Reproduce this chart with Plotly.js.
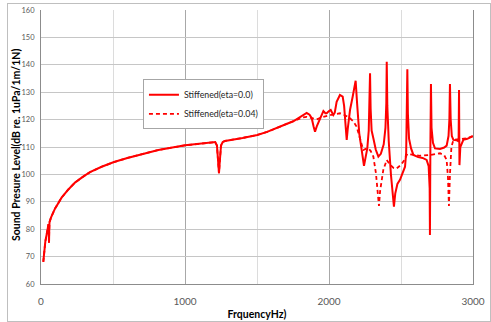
<!DOCTYPE html>
<html>
<head>
<meta charset="utf-8">
<script src="https://cdn.plot.ly/plotly-3.0.1.min.js"></script>
<style>
html,body{margin:0;padding:0;background:#fff;}
#wrap{position:relative;width:491px;height:322px;}
#chart{position:absolute;left:0;top:0;width:491px;height:322px;}
#frame{position:absolute;left:7px;top:3px;width:482px;height:317px;border:1px solid #bfbfbf;pointer-events:none;}
</style>
</head>
<body>
<div id="wrap"><div id="chart"></div><div id="frame"></div></div>
<script>
// Shared low-frequency part (both curves coincide)
const lowFreq = [16, 22, 30, 39, 47, 52, 54, 55.6, 57, 59, 70, 97, 143, 190, 236, 290, 340, 421, 507, 600, 688, 815, 1000, 1100, 1174, 1210, 1222, 1230, 1236, 1242, 1250, 1262, 1278, 1400, 1502, 1570, 1637, 1700, 1752];
const lowSpl  = [68.1, 72, 75.5, 78, 80.2, 81.8, 79, 75.1, 79, 82.6, 84.3, 87.5, 91.5, 94.5, 97.0, 99.1, 100.8, 102.8, 104.5, 106.0, 107.3, 108.9, 110.6, 111.2, 111.7, 111.8, 110.5, 105, 100.4, 105, 110.5, 111.8, 112.2, 113.3, 114.4, 115.5, 116.8, 118.3, 119.4];

// eta = 0.0 (solid), high-frequency part
const freqSolidHigh = [1790, 1820, 1845, 1865, 1880, 1893, 1903, 1915, 1937, 1961, 1975, 1984, 1998, 2012, 2030, 2040, 2053, 2076, 2095, 2105, 2115, 2123, 2130, 2146, 2165, 2178, 2185, 2195, 2210, 2227, 2243, 2255, 2266, 2276, 2281, 2285, 2289, 2296, 2308, 2325, 2343, 2360, 2380, 2392, 2398, 2401, 2405, 2415, 2430, 2443, 2451, 2460, 2475, 2493, 2515, 2528, 2536, 2541, 2544, 2548, 2556, 2570, 2586, 2620, 2650, 2678, 2692, 2699, 2701, 2704, 2708, 2712, 2722, 2736, 2771, 2800, 2817, 2830, 2836, 2840, 2845, 2853, 2864, 2885, 2900, 2903, 2906, 2912, 2933, 2960, 3000];
const splSolidHigh  = [120.6, 121.8, 122.4, 121.8, 120.5, 117.5, 115.6, 117.5, 120.5, 123.1, 122.3, 122.3, 123.0, 123.5, 121.7, 122.5, 126.5, 129, 128.4, 125, 118, 112.6, 116.5, 123.5, 128.5, 132.5, 134.2, 126, 115, 108.9, 103.1, 106.5, 109.5, 116, 124, 136.9, 124, 116, 113.2, 109, 106.5, 107.5, 111, 117, 126, 141.1, 125, 112, 100, 92, 88.2, 93, 96.5, 98, 101, 102.8, 108, 120, 138.4, 122, 113, 109.5, 107.1, 106.3, 106, 105.3, 103, 95, 77.9, 110, 133, 117, 111.5, 109.5, 109.3, 109.8, 110.5, 114, 120, 133, 120, 114, 112.6, 112.5, 112, 130.8, 103.4, 110, 112.6, 113, 114];

// eta = 0.04 (dashed), high-frequency part
const freqDashHigh = [1790, 1820, 1845, 1880, 1914, 1960, 2007, 2040, 2076, 2110, 2146, 2170, 2192, 2205, 2215, 2238, 2255, 2273, 2290, 2308, 2326, 2340, 2347, 2355, 2377, 2401, 2424, 2450, 2470, 2500, 2520, 2544, 2590, 2632, 2701, 2771, 2800, 2817, 2826, 2833, 2840, 2850, 2864, 2900, 2933, 2960, 3000];
const splDashHigh  = [120.2, 120.8, 121, 120.6, 120.1, 121, 121.7, 122, 122.3, 121.6, 120.5, 119.3, 117.4, 115, 112.6, 108.9, 109.3, 109.5, 108.5, 106.5, 100.4, 92, 88.5, 94, 101.6, 105.3, 103.5, 102.3, 102.2, 103.5, 105, 107.5, 107, 106.8, 107.1, 107.7, 107, 105.3, 99, 88.5, 100, 110, 112.6, 112.8, 112.8, 113.2, 114];

const seriesNames = ['Stiffened(eta=0.0)', 'Stiffened(eta=0.04)'];
const xTickVals = [0, 1000, 2000, 3000];
const xTickText = ['0', '1000', '2000', '3000'];
const xTitle = 'FrquencyHz)';
const yTitle = 'Sound Presure Level(dB re. 1uPa/1m/1N)';

const FONT = 'Lato, "Liberation Sans", sans-serif';

const traces = [
  {
    x: lowFreq.concat(freqSolidHigh),
    y: lowSpl.concat(splSolidHigh),
    name: seriesNames[0],
    mode: 'lines',
    line: {color: '#ff0000', width: 2}
  },
  {
    x: lowFreq.concat(freqDashHigh),
    y: lowSpl.concat(splDashHigh),
    name: seriesNames[1],
    mode: 'lines',
    line: {color: '#ff0000', width: 1.8, dash: '4px,3px'}
  }
];

const layout = {
  width: 491, height: 322,
  margin: {l: 41, r: 18, t: 10, b: 38, pad: 0},
  paper_bgcolor: '#ffffff',
  plot_bgcolor: '#ffffff',
  font: {family: FONT, color: '#404040'},
  showlegend: true,
  legend: {
    x: 0.236, y: 0.747, xanchor: 'left', yanchor: 'top',
    bgcolor: '#ffffff', bordercolor: '#a6a6a6', borderwidth: 1,
    font: {family: FONT, size: 8.8, color: '#262626'},
    tracegroupgap: 0
  },
  xaxis: {
    range: [0, 3000],
    tickvals: xTickVals, ticktext: xTickText,
    tickfont: {family: FONT, size: 10, color: '#595959'},
    ticks: '', ticklabelstandoff: 8,
    showgrid: true, gridcolor: '#a8a8a8', gridwidth: 1,
    minor: {dtick: 500, tick0: 0, showgrid: true, gridcolor: '#dcdcdc', gridwidth: 1},
    showline: true, linecolor: '#8c8c8c', linewidth: 1, mirror: false,
    zeroline: false,
    title: {text: '<b>' + xTitle + '</b>', font: {family: FONT, size: 10.5, color: '#000000'}, standoff: 4}
  },
  yaxis: {
    range: [60, 160], dtick: 10, tick0: 60,
    tickfont: {family: FONT, size: 7.5, color: '#595959'},
    ticks: '', ticklabelstandoff: 4,
    showgrid: true, gridcolor: '#c6c6c6', gridwidth: 1,
    showline: true, linecolor: '#8c8c8c', linewidth: 1, mirror: true,
    zeroline: false
  },
  annotations: [{
    text: '<b>' + yTitle + '</b>',
    xref: 'paper', yref: 'paper', x: 0, y: 0.5,
    xanchor: 'center', yanchor: 'middle', xshift: -25, yshift: 2,
    textangle: -90, showarrow: false,
    font: {family: FONT, size: 10.5, color: '#000000'}
  }]
};

Plotly.newPlot('chart', traces, layout, {displayModeBar: false, staticPlot: true});
</script>
</body>
</html>
